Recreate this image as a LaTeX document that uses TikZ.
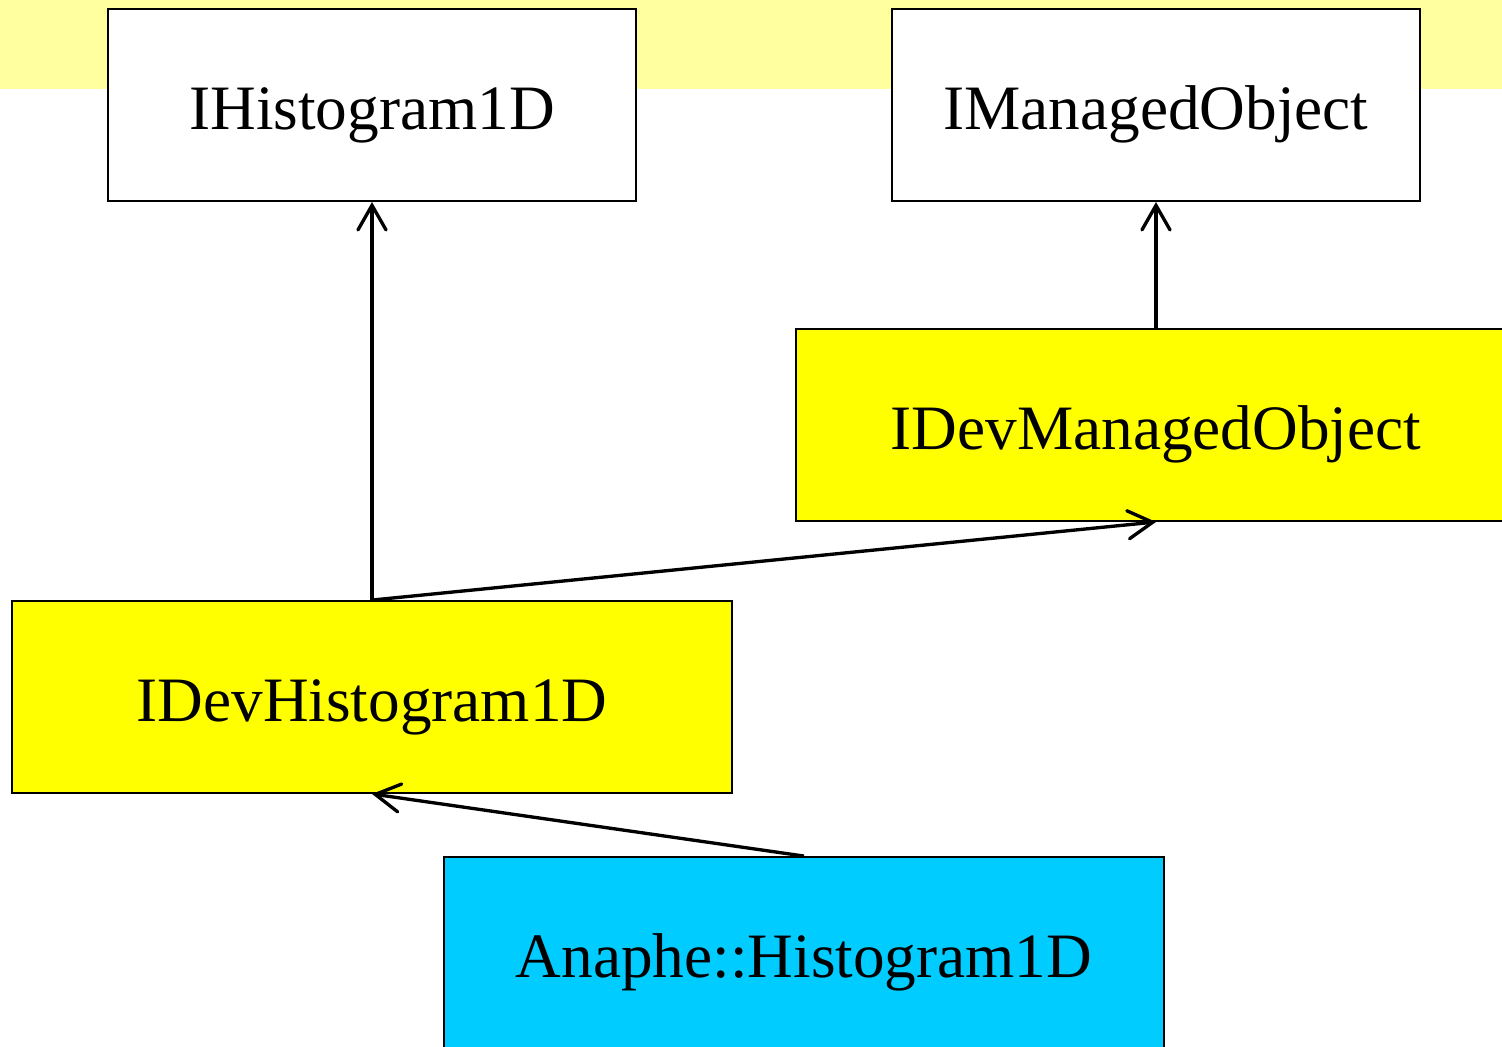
\documentclass[tikz,border=0pt]{standalone}
\usepackage{fontspec}
\setmainfont{Liberation Serif}
\usepackage{tikz}
\usetikzlibrary{arrows.meta}
\definecolor{bandyellow}{RGB}{255,255,160}
\definecolor{devyellow}{RGB}{255,255,0}
\definecolor{implcyan}{RGB}{0,204,255}
\tikzset{
    x=0.02cm,
    y=-0.02cm,
    >={Straight Barb[length=14pt, width=16pt, line cap=round]},
    classbox/.style={draw, line width=1.1pt, inner sep=0pt,
        minimum height=3.84cm, text height=28pt, text depth=0pt,
        font=\fontsize{36}{43}\selectfont},
    iface/.style={classbox, fill=white, minimum width=10.56cm},
    devbox/.style={classbox, fill=devyellow, minimum width=14.4cm},
    implbox/.style={classbox, fill=implcyan, minimum width=14.4cm},
    inherit/.style={->, line width=1.9pt},
}

\begin{document}
\begin{tikzpicture}
    \useasboundingbox (0,0) rectangle (1502,1046);
    \clip (0,0) rectangle (1502,1046);
    \fill[bandyellow] (0,0) rectangle (1502,89);

    \node[iface] (ihist) at (372,105) {IHistogram1D};
    \node[iface] (imanaged) at (1156,105) {IManagedObject};
    \node[devbox] (devmanaged) at (1156,425) {IDevManagedObject};
    \node[devbox] (devhist) at (372,697) {IDevHistogram1D};
    \node[implbox] (anaphe) at (804,953) {Anaphe::Histogram1D};

    \draw[inherit] (devhist.north) -- (ihist.south);
    \draw[inherit] (devmanaged.north) -- (imanaged.south);
    \draw[inherit] (devhist.north) -- (devmanaged.south);
    \draw[inherit] (anaphe.north) -- (devhist.south);
\end{tikzpicture}
\end{document}
